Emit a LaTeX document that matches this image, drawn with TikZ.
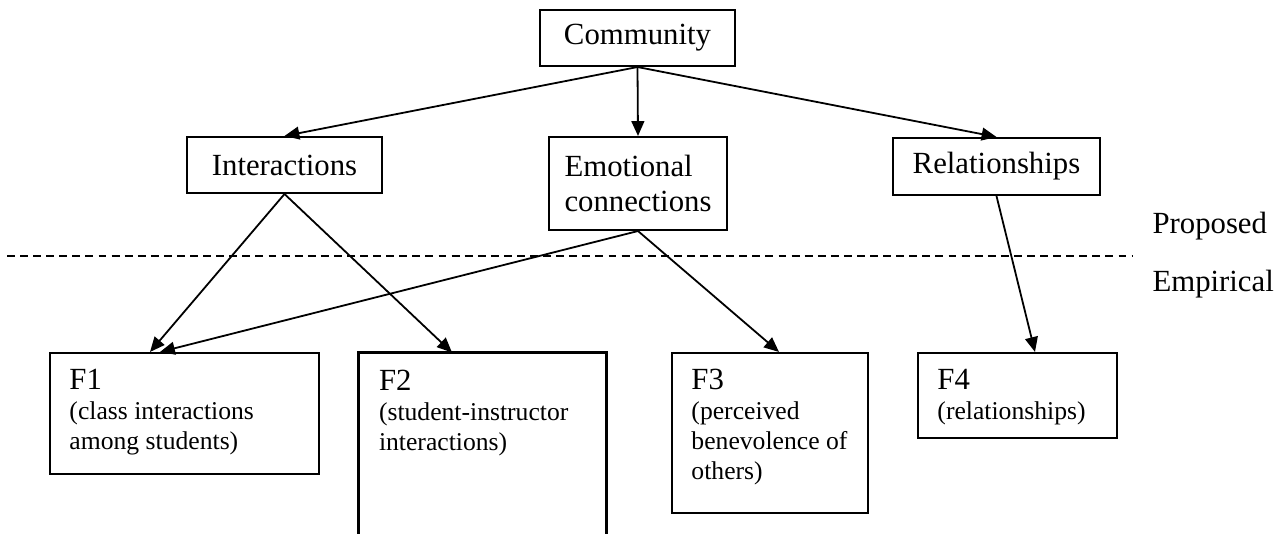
\documentclass[tikz,border=0pt]{standalone}
\usepackage{fontspec}
\setmainfont{Liberation Serif}
\usetikzlibrary{arrows.meta,positioning}
\newcommand{\px}{0.39pt}

\begin{document}
\begin{tikzpicture}[x=\px,y=-\px,>={Triangle[length=5.8pt,width=5pt]},
  box/.style={draw,line width=0.8pt,inner sep=0pt,font=\fontsize{12}{13.65}\selectfont},
  link/.style={->,line width=0.7pt},
  ftext/.style={anchor=north west,inner sep=0pt,align=left,font=\fontsize{10}{11.7}\selectfont}]
  \useasboundingbox (0,0) rectangle (1285,534);
  % proposed structure
  \node[box,minimum width=195*\px,minimum height=56*\px] (com) at (637.5,38) {Community};
  \node[box,minimum width=195*\px,minimum height=56*\px] (inter) at (284.5,165) {Interactions};
  \node[box,align=left,minimum width=178*\px,minimum height=93*\px] (emo) at (638,183.5) {Emotional\\connections};
  \node[box,minimum width=207*\px,minimum height=57*\px] (rel) at (996.5,166.5) {Relationships};
  % empirical factors
  \node[box,minimum width=269*\px,minimum height=121*\px] (f1) at (184.5,413.5) {};
  \node[inner sep=0pt,minimum width=247*\px,minimum height=181*\px] (f2) at (482.5,443.5) {};
  \draw[line width=0.8pt] (f2.south west) -- (f2.north west) -- (f2.north east) -- (f2.south east);
  \node[box,minimum width=196*\px,minimum height=160*\px] (f3) at (770,433) {};
  \node[box,minimum width=199*\px,minimum height=85*\px] (f4) at (1017.5,395.5) {};
  \foreach \f/\n/\t in {f1/F1/{(class interactions\\among students)},
                        f2/F2/{(student-instructor\\interactions)},
                        f3/F3/{(perceived\\benevolence of\\others)},
                        f4/F4/{(relationships)}}
    \node[ftext] (\f t) at ([shift={(20,17)}]\f.north west) {{\fontsize{12}{11.7}\selectfont\n}\\\t};
  % divider between the two levels
  \coordinate (dl) at (7,256);
  \coordinate (dr) at (1132,256);
  \draw[line width=0.7pt,dash pattern=on 3.1pt off 2pt] (dl) -- (dr);
  \node[anchor=base west,inner sep=0pt,font=\fontsize{12}{13.65}\selectfont] (prop) at (1152,234) {Proposed};
  \node[anchor=base west,inner sep=0pt,font=\fontsize{12}{13.65}\selectfont] (emp) at (1152,292) {Empirical};
  % connectors
  \foreach \a/\b in {com/inter,com/emo,com/rel}
    \draw[link] (\a.south) -- (\b.north);
  \foreach \a/\b/\s in {inter/f1/-34.5,emo/f1/-24.5,inter/f2/-30.5,emo/f3/9,rel/f4/17.5}
    \draw[link] (\a.south) -- ([xshift=\s*\px]\b.north);
\end{tikzpicture}
\end{document}
